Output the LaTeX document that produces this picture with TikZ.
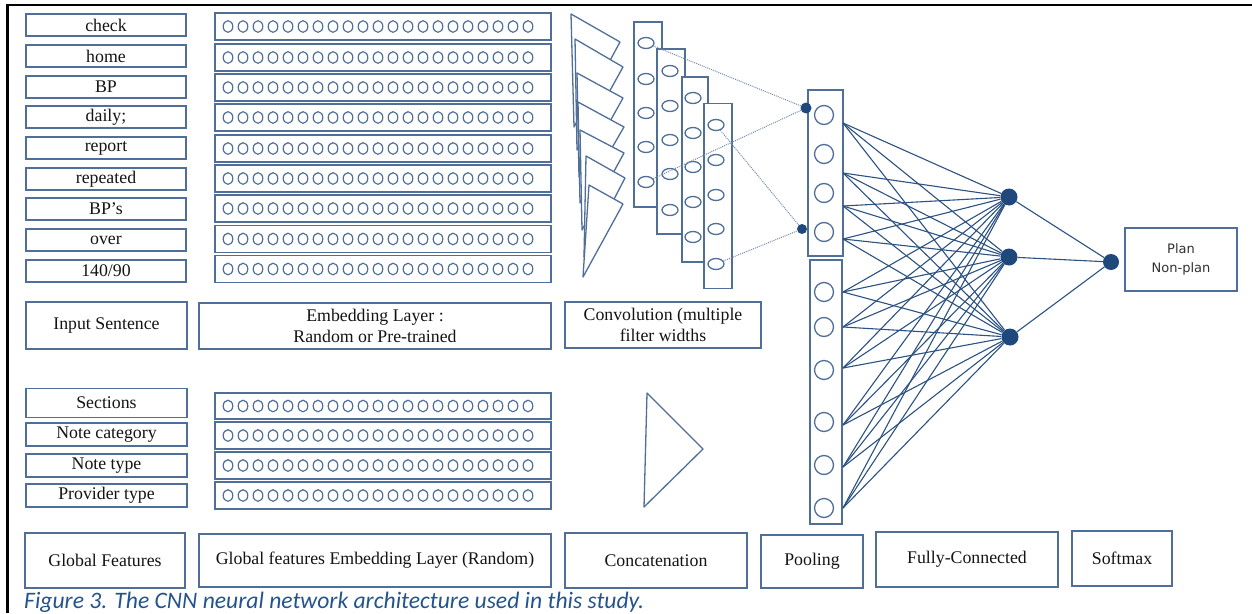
\documentclass[tikz,border=0pt]{standalone}
\usepackage{fontspec}
\setmainfont{Liberation Serif}
\newfontfamily\capfont{Carlito}
\newfontfamily\sansf{DejaVu Sans}
\usetikzlibrary{shapes.geometric}
\definecolor{boxblue}{RGB}{79,111,152}
\definecolor{navy}{RGB}{31,73,125}
\definecolor{lineblue}{RGB}{44,82,130}
\definecolor{dotline}{RGB}{120,140,172}
\definecolor{capblue}{RGB}{36,84,140}
\definecolor{txt}{RGB}{20,20,20}
\begin{document}
\begin{tikzpicture}[x=1pt,y=-1pt,
  box/.style={draw=boxblue, line width=1.4pt, fill=white, rectangle, inner sep=0pt,
    text=txt, font=\fontsize{17.8}{21}\selectfont, align=center},
  wordbox/.style={box, minimum width=160pt, minimum height=22pt},
  embbox/.style={box, minimum width=336pt, minimum height=27pt},
  emcirc/.style={draw=boxblue, line width=1.2pt},
  tri/.style={draw=boxblue, fill=white, line width=1.3pt, line join=round},
  fmap/.style={draw=boxblue, fill=white, line width=1.4pt, rectangle, inner sep=0pt, minimum width=28pt, minimum height=185pt},
  ccirc/.style={draw=boxblue, line width=1.3pt, ellipse, inner sep=0pt, minimum width=16pt, minimum height=11pt},
  pcirc/.style={draw=boxblue, line width=1.3pt, circle, inner sep=0pt, minimum size=19pt},
  ndot/.style={fill=navy, circle, inner sep=0pt},
  dotl/.style={draw=dotline, line width=1pt, densely dotted},
  fc/.style={draw=lineblue, line width=1.1pt}
]
\useasboundingbox (0,0) rectangle (1252,613);
\fill[white] (0,0) rectangle (1252,613);
\draw[line width=2.6pt] (7.5,613) -- (7.5,5) -- (1252,5);

% input words
\node[wordbox] (w1) at (106,25) {check};
\node[wordbox] (w2) at (106,56) {home};
\node[wordbox] (w3) at (106,87) {BP};
\node[wordbox] (w4) at (106,117) {daily;};
\node[wordbox] (w5) at (106,148) {report};
\node[wordbox] (w6) at (106,179) {repeated};
\node[wordbox] (w7) at (106,209) {BP’s};
\node[wordbox] (w8) at (106,240) {over};
\node[wordbox] (w9) at (106,271) {140/90};

% embedding rows
\foreach \i/\y in {1/26.5,2/57.5,3/87.5,4/117.5,5/148.5,6/178.5,7/208.5,8/239,9/269}{
  \node[embbox] (e\i) at (383,\y) {};
  \foreach \k in {0,...,20}{
    \draw[emcirc] (228+15*\k,\y) ellipse [x radius=4.8pt, y radius=5.8pt];
  }
}

% filters (triangles)
\draw[tri] (571,14) -- (620,42) -- (574,127) -- cycle;
\draw[tri] (575,39) -- (623,67) -- (577,150) -- cycle;
\draw[tri] (577,73) -- (623,98) -- (579,177) -- cycle;
\draw[tri] (578,102) -- (624,127) -- (580,203) -- cycle;
\draw[tri] (580,130) -- (624,153) -- (582,230) -- cycle;
\draw[tri] (586,156) -- (625,178) -- (584,257) -- cycle;
\draw[tri] (589,185) -- (623,204) -- (583,277) -- cycle;

% feature maps
\node[fmap] (m1) at (648,114.5) {};
\foreach \j/\y in {a/43,b/79,c/113,d/147,e/182}{ \node[ccirc] (m1\j) at (646,\y) {}; }
\node[fmap] (m2) at (671,141.5) {};
\foreach \j/\y in {a/71,b/106,c/140,d/174,e/210}{ \node[ccirc] (m2\j) at (670,\y) {}; }
\node[fmap, minimum width=26pt] (m3) at (695,169.5) {};
\foreach \j/\y in {a/98,b/133,c/167,d/202,e/237}{ \node[ccirc] (m3\j) at (693,\y) {}; }
\node[fmap] (m4) at (718,196) {};
\foreach \j/\y in {a/125,b/160,c/195,d/229,e/264}{ \node[ccirc] (m4\j) at (716,\y) {}; }

% pooling columns
\node[box, minimum width=35pt, minimum height=166pt] (p1) at (825.5,173) {};
\foreach \j/\y in {a/115,b/154,c/193,d/232}{ \node[pcirc] (p1\j) at (824,\y) {}; }
\node[box, minimum width=32pt, minimum height=264pt] (p2) at (826,392) {};
\foreach \j/\y in {a/292,b/327,c/370,d/422,e/465,f/508}{ \node[pcirc] (p2\j) at (824,\y) {}; }

% max dots
\node[ndot, minimum size=11pt] (d1) at (806,108) {};
\node[ndot, minimum size=10pt] (d2) at (802,229) {};
\draw[dotl] (m1a) -- (d1);
\draw[dotl] (m1e) -- (d1);
\draw[dotl] (m4a) -- (d2);
\draw[dotl] (m4e) -- (d2);

% fully connected
\node[ndot, minimum size=17pt] (h1) at (1009,197) {};
\node[ndot, minimum size=17pt] (h2) at (1009,257) {};
\node[ndot, minimum size=17pt] (h3) at (1010,337) {};
\node[ndot, minimum size=16pt] (o) at (1111,262) {};
\foreach \n/\y in {1/123,2/173,3/206,4/239,5/292,6/327,7/368,8/425,9/467,10/508}{
  \coordinate (q\n) at (843,\y);
  \foreach \h in {h1,h2,h3}{ \draw[fc] (q\n) -- (\h); }
}
\foreach \h in {h1,h2,h3}{ \draw[fc] (\h) -- (o); }
\node[box, minimum width=112pt, minimum height=63pt, font=\sansf\fontsize{13}{19}\selectfont, text={rgb,255:red,50;green,50;blue,50}] (plan) at (1181,259.5) {Plan\\Non-plan};

% middle labels
\node[box, minimum width=161pt, minimum height=47pt] (lin) at (106.5,325.5) {Input Sentence};
\node[box, minimum width=352pt, minimum height=46pt] (lemb) at (375,326) {Embedding Layer :\\Random or Pre-trained};
\node[box, minimum width=196pt, minimum height=46pt] (lconv) at (663,325) {Convolution (multiple\\filter widths};

% global features
\node[box, minimum width=161pt, minimum height=29pt] (g1) at (106.5,403) {Sections};
\node[box, minimum width=161pt, minimum height=23pt] (g2) at (106.5,434.5) {Note category};
\node[box, minimum width=161pt, minimum height=23pt] (g3) at (106.5,465.5) {Note type};
\node[box, minimum width=161pt, minimum height=23pt] (g4) at (106.5,495.5) {Provider type};
\foreach \i/\y/\hh in {1/406/26,2/435.5/27,3/465.5/27,4/495.5/27}{
  \node[box, minimum width=336pt, minimum height=\hh pt] (ge\i) at (383,\y) {};
  \foreach \k in {0,...,20}{
    \draw[emcirc] (228+15*\k,\y) ellipse [x radius=4.8pt, y radius=5.8pt];
  }
}
\draw[tri] (647,393) -- (703,449) -- (644,507) -- cycle;

% bottom labels
\node[box, minimum width=160pt, minimum height=55pt] (lgf) at (105,560.5) {Global Features};
\node[box, minimum width=352pt, minimum height=53pt] (lge) at (375,560.5) {Global features Embedding Layer (Random)};
\node[box, minimum width=182pt, minimum height=55pt] (lcat) at (656,560.5) {Concatenation};
\node[box, minimum width=102pt, minimum height=53pt] (lpool) at (812,561.5) {Pooling};
\node[box, minimum width=182pt, minimum height=55pt] (lfc) at (967,559.5) {Fully-Connected};
\node[box, minimum width=100pt, minimum height=55pt] (lsm) at (1122,558.5) {Softmax};

\node[anchor=base west, inner sep=0pt, text=capblue, font=\capfont\itshape\fontsize{23.6}{27}\selectfont] (cap) at (24,608) {Figure 3. The CNN neural network architecture used in this study.};
\end{tikzpicture}
\end{document}
